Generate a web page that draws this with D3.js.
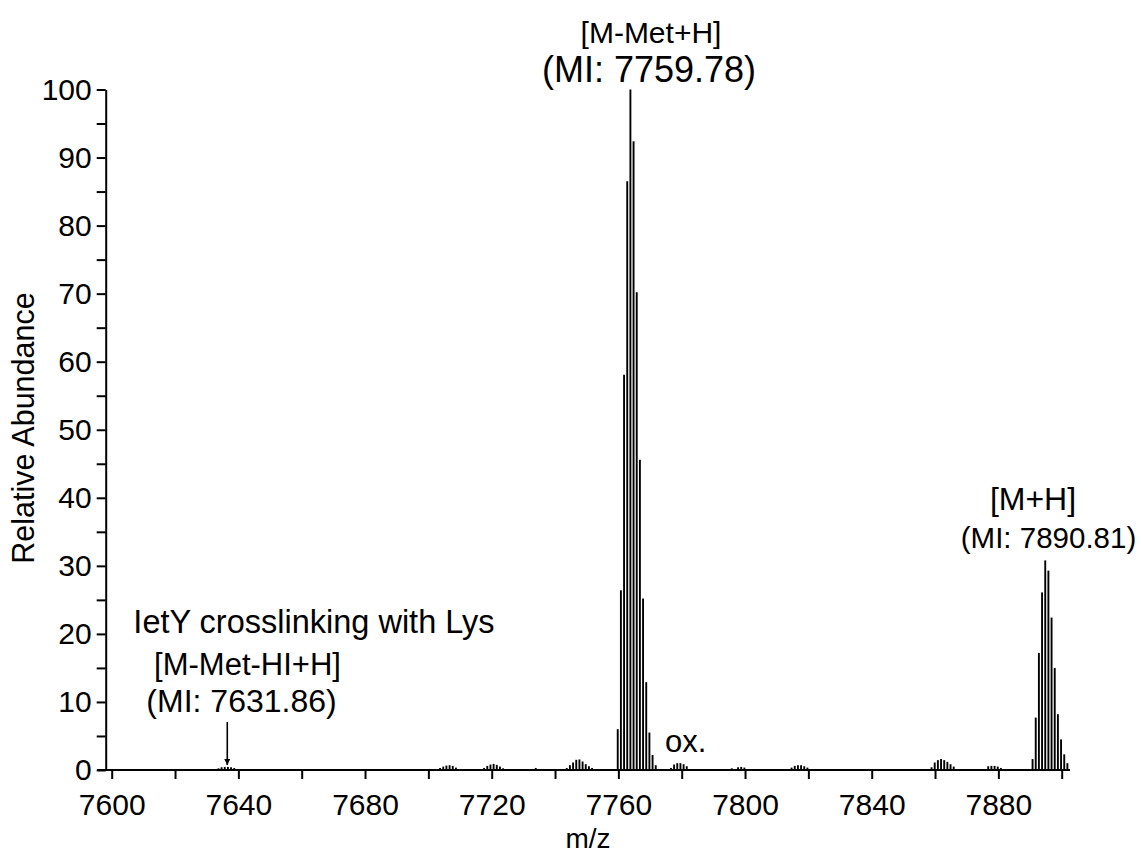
<!DOCTYPE html>
<html>
<head>
<meta charset="utf-8">
<script src="https://cdn.jsdelivr.net/npm/d3@7"></script>
<style>
  body { margin: 0; background: #fff; }
  svg { display: block; font-family: "Liberation Sans", Arial, sans-serif; }
  .axis path, .axis line { stroke: #000; stroke-width: 2; }
  .axis text { font-size: 30px; fill: #000; }
</style>
</head>
<body>
<div id="chart"></div>
<script>
// peaks as [m/z, relative abundance]
let ietYPeaks = [[7633.7, 0.25], [7634.7, 0.4], [7635.7, 0.45], [7636.7, 0.45], [7637.7, 0.4], [7638.7, 0.3]];
let cluster7706 = [[7703.7, 0.3], [7704.7, 0.5], [7705.7, 0.65], [7706.7, 0.7], [7707.7, 0.6], [7708.7, 0.35]];
let cluster7720 = [[7717.6, 0.3], [7718.6, 0.6], [7719.6, 0.8], [7720.6, 0.9], [7721.6, 0.75], [7722.6, 0.5], [7723.6, 0.25]];
let singles = [[7733.9, 0.3]];
let cluster7748 = [[7743.7, 0.3], [7744.7, 0.7], [7745.7, 1.1], [7746.7, 1.5], [7747.7, 1.55], [7748.7, 1.25], [7749.7, 0.85], [7750.7, 0.55], [7751.7, 0.3]];
let metLossPeaks = [[7759.8, 6.0], [7760.8, 26.4], [7761.8, 58.1], [7762.8, 86.5], [7763.8, 100], [7764.8, 92.4], [7765.8, 70.2],
  [7766.8, 45.6], [7767.8, 25.2], [7768.8, 12.9], [7769.8, 5.5], [7770.8, 2.2], [7771.8, 0.7]];
let oxPeaks = [[7776.6, 0.3], [7777.6, 0.8], [7778.6, 1.0], [7779.6, 1.0], [7780.6, 0.85], [7781.6, 0.55]];
let cluster7798 = [[7795.8, 0.25], [7797.8, 0.4], [7798.8, 0.45], [7799.8, 0.35]];
let cluster7817 = [[7814.7, 0.35], [7815.7, 0.6], [7816.7, 0.7], [7817.7, 0.7], [7818.7, 0.55], [7819.7, 0.35]];
let cluster7862 = [[7858.9, 0.4], [7859.9, 1.1], [7860.9, 1.45], [7861.9, 1.6], [7862.9, 1.45], [7863.9, 1.2], [7864.9, 0.85], [7865.9, 0.5]];
let cluster7879 = [[7876.8, 0.55], [7877.8, 0.6], [7878.8, 0.6], [7879.8, 0.5], [7880.8, 0.3]];
let mhPeaks = [[7890.8, 1.6], [7891.8, 7.7], [7892.8, 17.2], [7893.8, 26.1], [7894.8, 30.8], [7895.8, 29.3], [7896.8, 22.4],
  [7897.8, 15.0], [7898.8, 8.2], [7899.8, 4.5], [7900.8, 2.3], [7901.8, 1.0]];

let xTicks = d3.range(7600, 7901, 20);
let yTicks = d3.range(0, 101, 5);

let w = 1141, h = 854;

const svg = d3.select("#chart")
  .append("svg")
  .attr("width", w)
  .attr("height", h);

const xScale = d3.scaleLinear()
  .domain([7600, 7900])
  .range([111.7, 1061.7]);

const yScale = d3.scaleLinear()
  .domain([0, 100])
  .range([770, 89.5]);

// x axis: ticks every 20, labels every 40, line runs a bit past both ends
const xAxis = d3.axisBottom(xScale)
  .tickValues(xTicks)
  .tickFormat(d => d % 40 === 0 ? d : "")
  .tickSizeInner(9)
  .tickSizeOuter(0)
  .tickPadding(15);

let gx = svg.append("g")
  .attr("class", "axis")
  .attr("transform", "translate(0," + yScale(0) + ")")
  .call(xAxis);
gx.select(".domain").remove();
gx.append("line")
  .attr("x1", 97).attr("x2", 1070)
  .attr("y1", 0).attr("y2", 0);

const yAxis = d3.axisLeft(yScale)
  .tickValues(yTicks)
  .tickFormat(d => d % 10 === 0 ? d : "")
  .tickSizeInner(9)
  .tickSizeOuter(0)
  .tickPadding(5);

svg.append("g")
  .attr("class", "axis")
  .attr("transform", "translate(105.7,0)")
  .call(yAxis);

// stick spectrum
let peaks = [].concat(ietYPeaks, cluster7706, cluster7720, singles, cluster7748, metLossPeaks,
  oxPeaks, cluster7798, cluster7817, cluster7862, cluster7879, mhPeaks);

svg.append("g")
  .selectAll("line")
  .data(peaks)
  .enter()
  .append("line")
  .attr("x1", d => xScale(d[0]))
  .attr("x2", d => xScale(d[0]))
  .attr("y1", yScale(0))
  .attr("y2", d => yScale(d[1]))
  .attr("stroke", "#000")
  .attr("stroke-width", 1.9);

// axis titles
svg.append("text")
  .text("m/z")
  .attr("x", 588)
  .attr("y", 848)
  .attr("text-anchor", "middle")
  .style("font-size", "28px");

svg.append("text")
  .text("Relative Abundance")
  .attr("transform", "translate(34,428) rotate(-90)")
  .attr("text-anchor", "middle")
  .style("font-size", "30.5px");

// annotations
let notes = [
  ["[M-Met+H]", 651, 43.3, 30],
  ["(MI: 7759.78)", 649, 81.7, 36],
  ["[M+H]", 1033, 510, 32],
  ["(MI: 7890.81)", 1048.5, 548.3, 29.5],
  ["IetY crosslinking with Lys", 314, 633, 32.5],
  ["[M-Met-HI+H]", 247.5, 675, 31],
  ["(MI: 7631.86)", 241.5, 711.7, 32]
];

notes.forEach(n => {
  svg.append("text")
    .text(n[0])
    .attr("x", n[1])
    .attr("y", n[2])
    .attr("text-anchor", "middle")
    .style("font-size", n[3] + "px");
});

svg.append("text")
  .text("ox.")
  .attr("x", 665)
  .attr("y", 752)
  .style("font-size", "31px");

// arrow pointing at the IetY cluster
svg.append("defs")
  .append("marker")
  .attr("id", "head")
  .attr("viewBox", "0 0 10 10")
  .attr("refX", 10).attr("refY", 5)
  .attr("markerWidth", 4).attr("markerHeight", 4)
  .attr("orient", "auto")
  .append("path")
  .attr("d", "M0,0L10,5L0,10z")
  .attr("fill", "#000");

svg.append("line")
  .attr("x1", xScale(7636.5)).attr("x2", xScale(7636.5))
  .attr("y1", 722).attr("y2", 765)
  .attr("stroke", "#000")
  .attr("stroke-width", 1.6)
  .attr("marker-end", "url(#head)");
</script>
</body>
</html>
